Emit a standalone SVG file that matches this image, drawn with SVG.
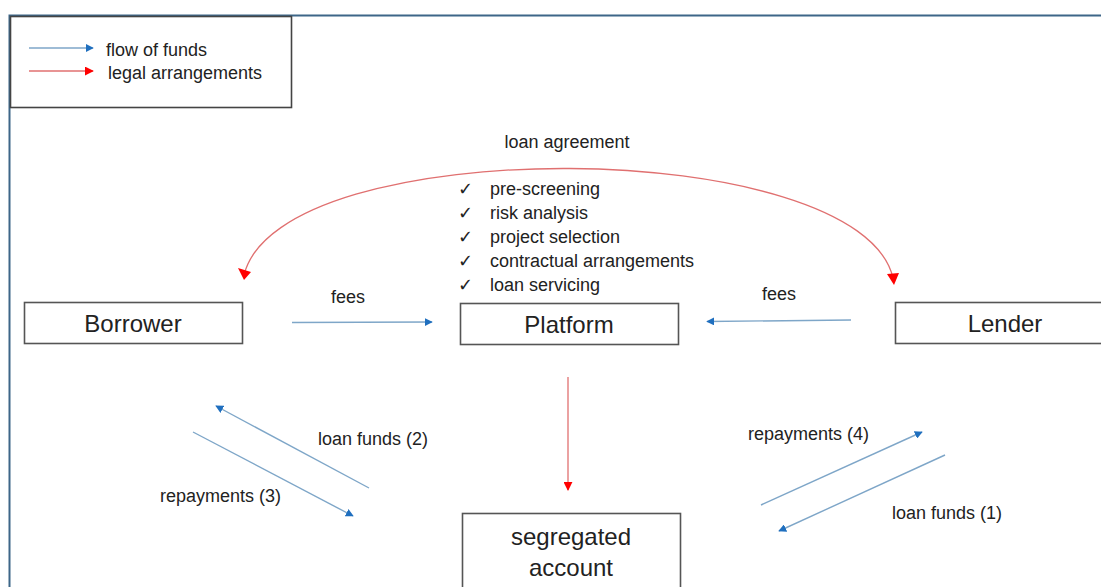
<svg xmlns="http://www.w3.org/2000/svg" width="1101" height="587" viewBox="0 0 1101 587">
<style>
text{font-family:"Liberation Sans",Arial,sans-serif;fill:#222}
.s{font-size:18px}
.b{font-size:24px;text-anchor:middle}
.box{fill:#fff;stroke:#555;stroke-width:1.6}
.blue{stroke:#7ea6c8;stroke-width:1.4;fill:none;marker-end:url(#ab)}
.red{stroke:#e07070;stroke-width:1.3;fill:none;marker-end:url(#ar)}
.arc{stroke:#e07070;stroke-width:1.3;fill:none}
</style>
<defs>
<marker id="ab" viewBox="0 0 10 10" refX="9" refY="5" markerWidth="8" markerHeight="8" markerUnits="userSpaceOnUse" orient="auto"><path d="M0 0L10 5L0 10z" fill="#1f6fbf"/></marker>
<marker id="ar" viewBox="0 0 10 10" refX="9" refY="5" markerWidth="9" markerHeight="9" markerUnits="userSpaceOnUse" orient="auto"><path d="M0 0L10 5L0 10z" fill="#ff0000"/></marker>
</defs>
<rect width="1101" height="587" fill="#fff"/>
<path d="M9.5 587V15.5H1101" fill="none" stroke="#3d6688" stroke-width="2"/>
<g id="legend">
<rect x="10.5" y="16.5" width="281" height="91" fill="#fff" stroke="#444" stroke-width="1.6"/>
<line x1="29" y1="48" x2="93" y2="48" class="blue"/>
<line x1="29" y1="71" x2="93" y2="71" class="red"/>
<text x="106" y="56" class="s">flow of funds</text>
<text x="108" y="79" class="s">legal arrangements</text>
</g>
<g id="connectors">
<path d="M893 278C860 135 280 130 244 275" class="arc"/>
<path d="M238 268L251 272L244 280z" fill="#ff0000"/>
<path d="M887 274L899 273L894 285z" fill="#ff0000"/>
<line x1="292" y1="322.5" x2="432" y2="322" class="blue"/>
<line x1="851" y1="320" x2="707" y2="321.5" class="blue"/>
<line x1="568" y1="377" x2="568" y2="490" class="red"/>
<line x1="369" y1="488" x2="216" y2="406" class="blue"/>
<line x1="193" y1="432" x2="353" y2="516" class="blue"/>
<line x1="761" y1="505" x2="922" y2="432" class="blue"/>
<line x1="945" y1="455" x2="779" y2="531" class="blue"/>
</g>
<g id="labels">
<text x="567" y="148" class="s" text-anchor="middle">loan agreement</text>
<text x="348" y="303" class="s" text-anchor="middle">fees</text>
<text x="779" y="300" class="s" text-anchor="middle">fees</text>
<text x="318" y="445" class="s">loan funds (2)</text>
<text x="160" y="502" class="s">repayments (3)</text>
<text x="748" y="440" class="s">repayments (4)</text>
<text x="892" y="519" class="s">loan funds (1)</text>
</g>
<g id="checklist">
<text x="458" y="195" class="s">✓</text><text x="490" y="195" class="s">pre-screening</text>
<text x="458" y="219" class="s">✓</text><text x="490" y="219" class="s">risk analysis</text>
<text x="458" y="243" class="s">✓</text><text x="490" y="243" class="s">project selection</text>
<text x="458" y="267" class="s">✓</text><text x="490" y="267" class="s">contractual arrangements</text>
<text x="458" y="291" class="s">✓</text><text x="490" y="291" class="s">loan servicing</text>
</g>
<g id="borrower">
<rect x="24.5" y="302.5" width="218" height="41" class="box"/>
<text x="133" y="332" class="b">Borrower</text>
</g>
<g id="platform">
<rect x="460.5" y="303.5" width="218" height="41" class="box"/>
<text x="569" y="333" class="b">Platform</text>
</g>
<g id="lender">
<rect x="895.5" y="302.5" width="210" height="41" class="box"/>
<text x="1005" y="332" class="b">Lender</text>
</g>
<g id="segregated">
<rect x="462.5" y="513.5" width="218" height="80" class="box"/>
<text x="571" y="545" class="b">segregated</text>
<text x="571" y="576" class="b">account</text>
</g>
</svg>
